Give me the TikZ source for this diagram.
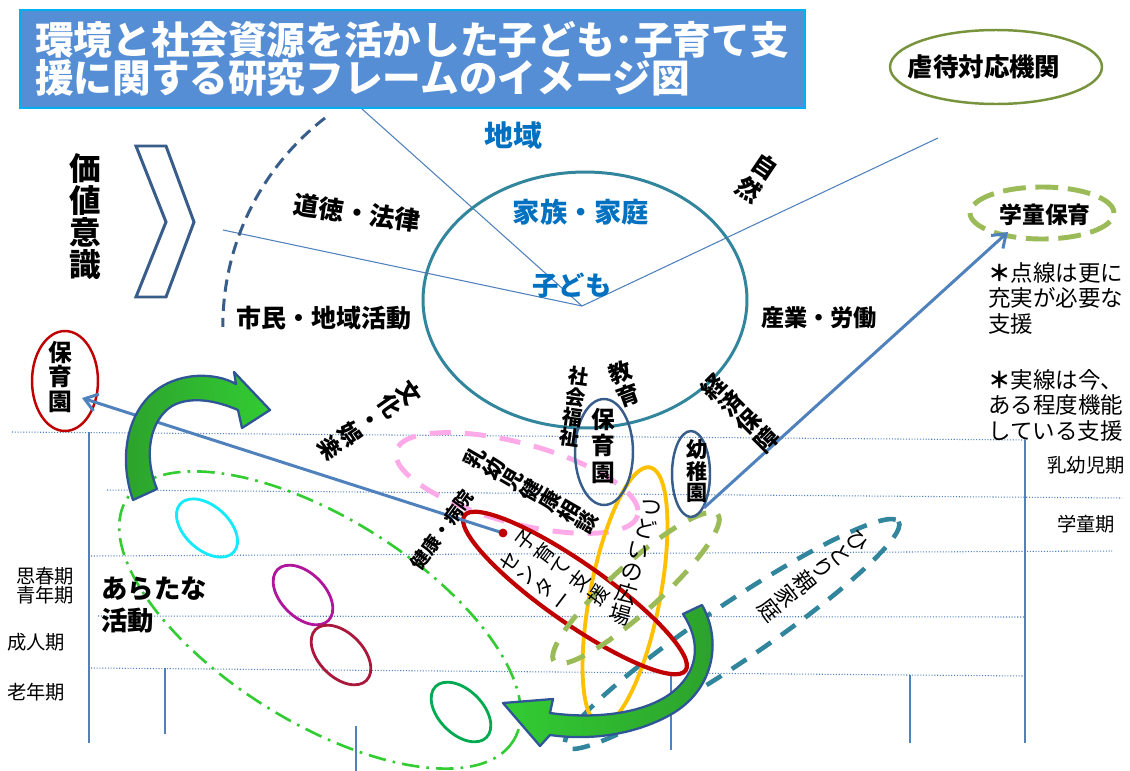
\documentclass[tikz,border=0pt]{standalone}
\usepackage{fontspec}
\setmainfont{Noto Sans CJK JP}
\usetikzlibrary{shapes.geometric,arrows.meta}
\definecolor{titlefill}{RGB}{85,142,213}
\definecolor{titleborder}{RGB}{0,176,240}
\definecolor{lineblue}{RGB}{79,129,189}
\definecolor{tealc}{RGB}{49,133,156}
\definecolor{navyc}{RGB}{56,93,138}
\definecolor{darkredc}{RGB}{192,0,0}
\definecolor{olivec}{RGB}{119,147,60}
\definecolor{lgreenc}{RGB}{155,187,89}
\definecolor{pinkc}{RGB}{255,170,232}
\definecolor{orangec}{RGB}{255,192,0}
\definecolor{ddgreen}{RGB}{51,204,51}
\definecolor{cyanc}{RGB}{20,235,250}
\definecolor{magc}{RGB}{176,22,155}
\definecolor{crimc}{RGB}{170,25,60}
\definecolor{greenc}{RGB}{0,170,80}
\definecolor{arrowdark}{RGB}{44,160,44}
\definecolor{arrowlight}{RGB}{51,204,51}
\definecolor{arrowedge}{RGB}{47,85,151}
\definecolor{textblue}{RGB}{0,112,192}
\newcommand{\fsz}[2]{\fontsize{#1}{#2}\selectfont}
\newcommand{\vstk}[1]{\begin{tabular}[t]{@{}c@{}}#1\end{tabular}}
\begin{document}
\begin{tikzpicture}[x=0.02cm,y=-0.02cm,
  gridline/.style={lineblue, densely dotted, line width=0.6pt},
  vline/.style={lineblue, line width=1.1pt},
  radial/.style={lineblue, line width=0.6pt},
  lab/.style={inner sep=0pt, align=center, text=black},
  ellnode/.style={ellipse, inner sep=0pt},
  bluearrow/.style={lineblue, line width=1.7pt, -{Straight Barb[length=7pt,width=10pt]}},
  greenarrow/.style={draw=arrowedge, line width=1.3pt, line join=round}
]
\fill[white] (0,0) rectangle (1130,771);
\useasboundingbox (0,0) rectangle (1130,771);

% life-stage grid
\draw[gridline] (12,432) -- (1025,440);
\draw[gridline] (107,490) -- (1122,498);
\draw[gridline] (91,556) -- (1112,551);
\draw[gridline] (98,616) -- (1025,617);
\draw[gridline] (91,668) -- (1025,676);
\draw[vline] (89,432) -- (89,743);
\draw[vline] (165,668) -- (165,734);
\draw[vline] (356,726) -- (356,771);
\draw[vline] (671,673) -- (671,750);
\draw[vline] (910,675) -- (910,743);
\draw[vline] (1025,440) -- (1025,743);

% radial lines
\coordinate (kc) at (582,306);
\coordinate (r1) at (352,100);
\coordinate (r2) at (223,230);
\coordinate (r3) at (938,138);
\draw[radial] (kc) -- (r1);
\draw[radial] (kc) -- (r2);
\draw[radial] (kc) -- (r3);

% family ellipse
\node[ellnode, draw=tealc, line width=1.7pt, minimum width=6.48cm, minimum height=5.12cm] (fam) at (585,300) {};

% dashed arc and chevron
\draw[navyc, line width=1.7pt, dash pattern=on 7pt off 4pt] (325,118) arc[start angle=127.7, end angle=180.2, radius=5.26cm];
\draw[navyc, line width=1.7pt, line join=miter] (136,146) -- (166,146) -- (194,222) -- (166,297) -- (136,297) -- (166,222) -- cycle;

% activity ellipses
\draw[ddgreen, line width=1.5pt, dash pattern=on 10pt off 4pt on 1.5pt off 4pt, rotate around={-32:(320,620)}] (320,620) ellipse (228 and 102);
\draw[cyanc, line width=1.6pt, rotate around={-42:(207,528)}] (207,528) ellipse (36 and 22);
\draw[magc, line width=1.6pt, rotate around={-45:(303,595)}] (303,595) ellipse (36 and 22);
\draw[crimc, line width=1.6pt, rotate around={-45:(341,655)}] (341,655) ellipse (36 and 22);
\draw[greenc, line width=1.6pt, rotate around={-45:(461,712)}] (461,712) ellipse (36 and 22);

% support ellipses
\draw[pinkc, line width=2.8pt, dash pattern=on 12pt off 8pt, rotate around={-15:(517,483)}] (517,483) ellipse (125 and 40);
\draw[tealc, line width=2.6pt, dash pattern=on 10pt off 7pt, rotate around={34:(732,634)}] (732,634) ellipse (201 and 29);
\draw[orangec, line width=2.2pt, rotate around={-11:(625,596)}] (625,596) ellipse (35 and 131);
\draw[darkredc, line width=2.4pt, rotate around={-35:(575,593)}] (575,593) ellipse (135 and 30);
\draw[lgreenc, line width=2.8pt, dash pattern=on 11pt off 8pt, rotate around={42:(636,588)}] (636,588) ellipse (110 and 24);

% institution ellipses
\node[ellnode, draw=olivec, line width=1.4pt, minimum width=4.24cm, minimum height=1.48cm] (abuse) at (996,67) {};
\node[ellnode, draw=lgreenc, line width=2.8pt, dash pattern=on 13pt off 5.5pt, minimum width=2.88cm, minimum height=1.04cm] (gakudo) at (1042,213) {};
\node[ellnode, draw=darkredc, line width=1.4pt, minimum width=1.32cm, minimum height=2cm] (hoikuL) at (65,381) {};
\node[ellnode, draw=navyc, line width=1.4pt, minimum width=1.16cm, minimum height=2.12cm] (hoikuC) at (604,452) {};
\node[ellnode, draw=navyc, line width=1.4pt, minimum width=0.76cm, minimum height=1.72cm] (youchi) at (691,474) {};

% title
\node[draw=titleborder, line width=1.6pt, fill=titlefill, text=white, inner xsep=0.3cm, inner ysep=0pt,
  minimum width=15.7cm, minimum height=1.96cm, text width=15.1cm, align=left,
  font=\fsz{22}{20}\bfseries] (title) at (412.5,59)
  {\raisebox{-2pt}{環境と社会資源を活かした子ども･子育て支}\\援に関する研究フレームのイメージ図};

% blue connectors
\coordinate (hoikuTip) at (82,398);
\coordinate (gakTip) at (1008,232);
\node[circle, draw=darkredc, fill=darkredc, line width=0.8pt, minimum size=0.14cm, inner sep=0pt] (reddot) at (503,533) {};
\draw[bluearrow] (reddot.center) -- (hoikuTip);
\node[circle, draw=darkredc, fill=darkredc, line width=0.8pt, minimum size=0.14cm, inner sep=0pt] at (reddot) {};
\draw[bluearrow] (youchi.-69) -- (gakTip);

% texts
\node[lab, font=\fsz{16.5}{18}\bfseries, text=textblue] (chiiki) at (513,135) {地域};
\node[lab, font=\fsz{15.5}{17}\bfseries, text=textblue] (kazoku) at (581,212) {家族・家庭};
\node[lab, font=\fsz{15}{17}\bfseries, text=textblue] (kodomo) at (572,285) {子ども};
\node[lab, font=\fsz{14.5}{16}\bfseries, rotate=-8] (dotoku) at (357,213) {道徳・法律};
\node[lab, font=\fsz{14.2}{16}\bfseries] (shimin) at (324,318) {市民・地域活動};
\node[lab, font=\fsz{13.2}{15}\bfseries] (sangyo) at (819,318) {産業・労働};
\node[lab, font=\fsz{18}{18.2}\bfseries] (kachi) at (85,217) {価\\値\\意\\識};
\node[lab, font=\fsz{14}{15.5}\bfseries, rotate=-34] (shizen) at (757,178) {自\\然};
\node[lab, font=\fsz{13}{13.7}\bfseries, rotate=-55] (bunka) at (370,420) {文\\化\\・\\娯\\楽};
\node[lab, font=\fsz{11.5}{11.7}\bfseries, rotate=-8] (fukushi) at (574,407) {社\\会\\福\\祉};
\node[lab, font=\fsz{13}{13.5}\bfseries, rotate=20] (kyoiku) at (624,384) {教\\育};
\node[lab, font=\fsz{13.5}{14.2}\bfseries, rotate=45] (keizai) at (740,413) {経\\済\\保\\障};
\node[lab, font=\fsz{12}{12.3}\bfseries, rotate=60] (nyuyoji) at (531,490) {乳\\幼\\児\\健\\康\\相\\談};
\node[lab, font=\fsz{10.5}{12}\bfseries, rotate=54] (kenko) at (442,530) {健康・病院};
\node[lab, font=\fsz{11.5}{12}, rotate=53] (kosodate) at (556,580) {\vstk{セ\\ン\\タ\\ー}\hspace{4pt}\vstk{子\\育\\て\\支\\援}};
\node[lab, font=\fsz{12.5}{12.8}, rotate=-16] (tsudoi) at (635,563) {つ\\ど\\い\\の\\広\\場};
\node[lab, font=\fsz{12.5}{12.8}, rotate=-52] (hitori) at (813,576) {ひ\\と\\り\\親\\家\\庭};
\node[lab, font=\fsz{13.5}{14.2}\bfseries] (hoikuLt) at (60,377) {保\\育\\園};
\node[lab, font=\fsz{13.5}{15}\bfseries] (hoikuCt) at (603,446) {保\\育\\園};
\node[lab, font=\fsz{12}{12.5}\bfseries] (youchit) at (697,471) {幼\\稚\\園};
\node[lab, font=\fsz{13}{14}\bfseries] (gakudot) at (1045,215) {学童保育};
\node[lab, font=\fsz{14.5}{16}\bfseries] (abuset) at (984,67) {虐待対応機関};
\node[lab, anchor=west, align=left, font=\fsz{15}{18}\bfseries] (arata) at (101,605) {あらたな\\活動};
\node[lab, anchor=west, align=left, font=\fsz{12.8}{14.5}] (note1) at (988,298) {{\bfseries ＊}点線は更に\\充実が必要な\\支援};
\node[lab, anchor=west, align=left, font=\fsz{12.8}{14.5}] (note2) at (988,405) {{\bfseries ＊}実線は今、\\ある程度機能\\している支援};
\node[lab, font=\fsz{11}{12}] (age1) at (1086,465) {乳幼児期};
\node[lab, font=\fsz{11}{12}] (age2) at (1086,524) {学童期};
\node[lab, font=\fsz{11}{12}] (age3) at (45,576) {思春期};
\node[lab, font=\fsz{11}{12}] (age4) at (45,595) {青年期};
\node[lab, font=\fsz{11}{12}] (age5) at (36,642) {成人期};
\node[lab, font=\fsz{11}{12}] (age6) at (36,692) {老年期};

% green curved arrows
\path[greenarrow, left color=arrowdark, right color=arrowlight]
  (133,500) .. controls (115,450) and (130,382) .. (195,376)
  .. controls (212,375) and (225,378) .. (236,384) -- (234,372) -- (270,410) -- (242,428) -- (238,410)
  .. controls (215,400) and (190,396) .. (172,406)
  .. controls (150,420) and (143,455) .. (157,489) -- cycle;
\path[greenarrow, left color=arrowlight, right color=arrowdark]
  (702,605) .. controls (722,640) and (715,690) .. (670,715)
  .. controls (630,737) and (585,740) .. (550,735) -- (540,746) -- (503,703) -- (553,699) -- (550,713)
  .. controls (600,720) and (650,712) .. (675,690)
  .. controls (700,668) and (700,640) .. (683,614) -- cycle;
\end{tikzpicture}
\end{document}
